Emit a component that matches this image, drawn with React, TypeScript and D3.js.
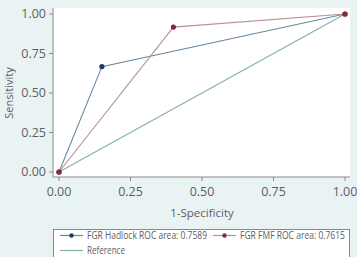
import React from "react";
import * as d3 from "d3";

const hadlockX = [0, 0.15, 1];
const hadlockY = [0, 0.667, 1];
const fmfX = [0, 0.4, 1];
const fmfY = [0, 0.917, 1];
const refX = [0, 1];
const refY = [0, 1];
const ticks = [0, 0.25, 0.5, 0.75, 1];
const legendLabels = ["FGR Hadlock ROC area: 0.7589", "FGR FMF ROC area: 0.7615", "Reference"];

export default function App() {
  const W = 357, H = 257;
  const x = d3.scaleLinear().domain([0, 1]).range([59, 345]);
  const y = d3.scaleLinear().domain([0, 1]).range([172, 14]);
  const line = d3.line<[number, number]>().x(d => x(d[0])).y(d => y(d[1]));
  const pts = (xs: number[], ys: number[]) => xs.map((v, i) => [v, ys[i]] as [number, number]);
  const font = "'Open Sans', sans-serif";
  const plotL = 53, plotR = 350, plotT = 8, plotB = 177;
  const hadLine = "#6a88a3", hadMark = "#1b3a5e";
  const fmfLine = "#b98f98", fmfMark = "#8e2439";
  const refLine = "#86b1a2";
  const tc = "#5e5e5e";
  return (
    <svg width={W} height={H} style={{ position: "absolute", left: 0, top: 0 }}>
      <rect x={0} y={0} width={W} height={H} fill="#eaf3f4" />
      <rect x={plotL} y={plotT} width={plotR - plotL} height={plotB - plotT} fill="#ffffff" />
      <path d={line(pts(refX, refY)) || ""} fill="none" stroke={refLine} strokeWidth={1.1} />
      <path d={line(pts(hadlockX, hadlockY)) || ""} fill="none" stroke={hadLine} strokeWidth={1.1} />
      <path d={line(pts(fmfX, fmfY)) || ""} fill="none" stroke={fmfLine} strokeWidth={1.1} />
      {pts(hadlockX, hadlockY).map((p, i) => (
        <circle key={"h" + i} cx={x(p[0])} cy={y(p[1])} r={2.6} fill={hadMark} />
      ))}
      {pts(fmfX, fmfY).map((p, i) => (
        <circle key={"f" + i} cx={x(p[0])} cy={y(p[1])} r={2.6} fill={fmfMark} />
      ))}
      <line x1={plotL} x2={plotL} y1={plotT} y2={plotB} stroke="#8a8a8a" strokeWidth={1} />
      <line x1={plotL} x2={plotR} y1={plotB} y2={plotB} stroke="#8a8a8a" strokeWidth={1} />
      {ticks.map(t => (
        <g key={"y" + t}>
          <line x1={plotL - 4} x2={plotL} y1={y(t)} y2={y(t)} stroke="#8a8a8a" />
          <text x={plotL - 7} y={y(t)} dy="0.35em" textAnchor="end" fontSize={12.5} fill={tc} fontFamily={font}>{d3.format(".2f")(t)}</text>
        </g>
      ))}
      {ticks.map(t => (
        <g key={"x" + t}>
          <line x1={x(t)} x2={x(t)} y1={plotB} y2={plotB + 4} stroke="#8a8a8a" />
          <text x={x(t)} y={plotB + 15} dy="0.35em" textAnchor="middle" fontSize={12.5} fill={tc} fontFamily={font}>{d3.format(".2f")(t)}</text>
        </g>
      ))}
      <text x={202} y={213} dy="0.35em" textAnchor="middle" fontSize={11.5} fill={tc} fontFamily={font}>1-Specificity</text>
      <text transform={`translate(9,${93}) rotate(-90)`} dy="0.35em" textAnchor="middle" fontSize={11} fill={tc} fontFamily={font}>Sensitivity</text>
      <rect x={53.5} y={229.5} width={296} height={40} fill="#fff" stroke="#8a8a8a" />
      <line x1={60} x2={83} y1={235.5} y2={235.5} stroke={hadLine} strokeWidth={1.2} />
      <circle cx={71.5} cy={235.5} r={2.2} fill={hadMark} />
      <text x={87} y={235.5} dy="0.35em" fontSize={10.3} fill={tc} fontFamily={font} textLength={120} lengthAdjust="spacingAndGlyphs">{legendLabels[0]}</text>
      <line x1={213} x2={236} y1={235.5} y2={235.5} stroke={fmfLine} strokeWidth={1.2} />
      <circle cx={224.5} cy={235.5} r={2.2} fill={fmfMark} />
      <text x={240} y={235.5} dy="0.35em" fontSize={10.3} fill={tc} fontFamily={font} textLength={105} lengthAdjust="spacingAndGlyphs">{legendLabels[1]}</text>
      <line x1={60} x2={83} y1={250.5} y2={250.5} stroke={refLine} strokeWidth={1.2} />
      <text x={87} y={250.5} dy="0.35em" fontSize={10.3} fill={tc} fontFamily={font} textLength={38} lengthAdjust="spacingAndGlyphs">{legendLabels[2]}</text>
    </svg>
  );
}
